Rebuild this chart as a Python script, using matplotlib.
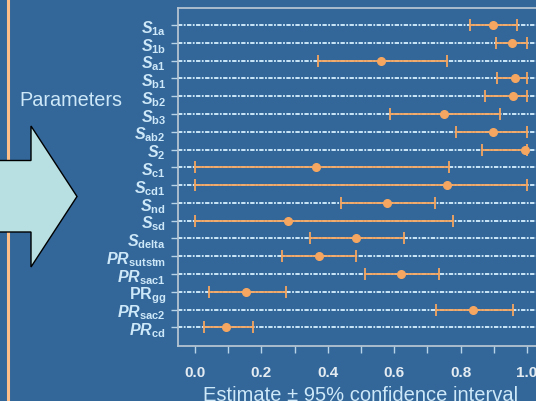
import numpy as np
import matplotlib
matplotlib.use("Agg")
import matplotlib.pyplot as plt
from matplotlib.patches import Polygon
from matplotlib.lines import Line2D

plt.rcParams["font.family"] = ["Liberation Sans", "DejaVu Sans"]
plt.rcParams["mathtext.fontset"] = "custom"
plt.rcParams["mathtext.it"] = "Liberation Sans:italic:bold"
plt.rcParams["mathtext.rm"] = "Liberation Sans:bold"
plt.rcParams["mathtext.bf"] = "Liberation Sans:bold"

# parameters, top to bottom
params = [
    r"$\mathit{S}_{\mathrm{1a}}$", r"$\mathit{S}_{\mathrm{1b}}$",
    r"$\mathit{S}_{\mathrm{a1}}$", r"$\mathit{S}_{\mathrm{b1}}$",
    r"$\mathit{S}_{\mathrm{b2}}$", r"$\mathit{S}_{\mathrm{b3}}$",
    r"$\mathit{S}_{\mathrm{ab2}}$", r"$\mathit{S}_{\mathrm{2}}$",
    r"$\mathit{S}_{\mathrm{c1}}$", r"$\mathit{S}_{\mathrm{cd1}}$",
    r"$\mathit{S}_{\mathrm{nd}}$", r"$\mathit{S}_{\mathrm{sd}}$",
    r"$\mathit{S}_{\mathrm{delta}}$", r"$\mathit{PR}_{\mathrm{sutstm}}$",
    r"$\mathit{PR}_{\mathrm{sac1}}$", r"$\mathrm{PR}_{\mathrm{gg}}$",
    r"$\mathit{PR}_{\mathrm{sac2}}$", r"$\mathit{PR}_{\mathrm{cd}}$",
]
estimate = [0.897, 0.955, 0.561, 0.963, 0.959, 0.750, 0.897, 0.995, 0.364,
            0.760, 0.577, 0.280, 0.485, 0.372, 0.620, 0.154, 0.838, 0.094]
lower = [0.829, 0.907, 0.371, 0.911, 0.873, 0.586, 0.787, 0.864, 0.0,
         0.0, 0.440, 0.0, 0.347, 0.262, 0.513, 0.042, 0.725, 0.027]
upper = [0.969, 1.0, 0.760, 1.0, 1.0, 0.919, 1.0, 1.0, 0.764,
         1.0, 0.722, 0.776, 0.630, 0.486, 0.736, 0.275, 0.957, 0.175]

bg = "#336699"
orange = "#f5a660"
light = "#cde8f8"

fig = plt.figure(figsize=(5.36, 4.02), dpi=100, facecolor=bg)

# left decoration: orange vertical rule + arrow + label
W, H = 536.0, 402.0
fig.add_artist(Line2D([8 / W, 8 / W], [0, 1], color="#ffbf88", lw=2.2,
                      transform=fig.transFigure, zorder=1))
arrow_px = [(-5, 161.5), (31, 161.5), (31, 127), (77, 197.5),
            (31, 268), (31, 233), (-5, 233)]
arrow = Polygon([(x / W, 1 - y / H) for x, y in arrow_px], closed=True,
                facecolor="#b8e0e2", edgecolor="black", lw=1,
                transform=fig.transFigure, zorder=2)
fig.add_artist(arrow)
fig.text(19 / W, 1 - 100 / H, "Parameters", color=light, fontsize=14.3,
         ha="left", va="center")

ax = fig.add_axes([178.4 / W, 1 - 346.7 / H, 365.2 / W, 337.7 / H])
ax.set_facecolor(bg)

n = len(params)
rows = np.arange(n)[::-1]
est = np.array(estimate)
lo = np.array(lower)
hi = np.array(upper)

for r in rows:
    ax.axhline(r, color="#d6f0ff", lw=1.3, ls=(0, (2.4, 0.8, 1.0, 0.8)),
               zorder=1)

ax.errorbar(est, rows, xerr=[est - lo, hi - est], fmt="o", color=orange,
            ecolor=orange, ms=5.5, elinewidth=1.3, capsize=4.5, capthick=1.3,
            zorder=3)

ax.set_xlim(-0.05, 1.05)
ax.set_ylim(-1.03, 17.96)
ax.set_yticks(rows)
ax.set_yticklabels(params)
ax.set_xticks(np.arange(0, 1.01, 0.1))
ax.set_xticklabels([f"{v:.1f}" if i % 2 == 0 else ""
                    for i, v in enumerate(np.arange(0, 1.01, 0.1))])

ax.tick_params(axis="y", colors="#b8d4e8", labelcolor=light, labelsize=11.5,
               length=5, width=1, pad=4)
ax.tick_params(axis="x", colors="#b8d4e8", labelcolor="#e4ecf2", labelsize=11,
               length=5, width=1, pad=9)
for lab in ax.get_xticklabels():
    lab.set_fontweight("bold")

for s in ["left", "top", "bottom", "right"]:
    ax.spines[s].set_color("#b4c4d2")
    ax.spines[s].set_linewidth(1.3)

ax.set_xlabel("Estimate \u00b1 95% confidence interval", color=light,
              fontsize=14.5, labelpad=4)

plt.savefig("out.png", dpi=100, facecolor=bg)
